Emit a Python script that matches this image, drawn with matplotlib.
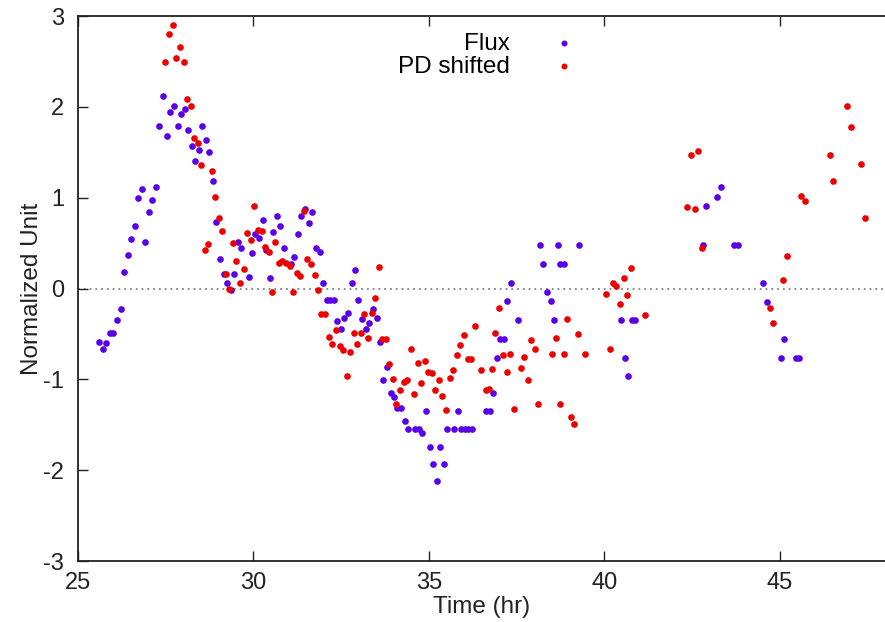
import matplotlib
matplotlib.use("Agg")
import matplotlib.pyplot as plt
import numpy as np

plt.rcParams["font.family"] = ["Liberation Sans", "DejaVu Sans"]
plt.rcParams["axes.unicode_minus"] = False

# Flux (blue) samples: time in hours, normalized value
flux_t = [25.61, 25.71, 25.81, 25.91, 26.01, 26.11, 26.22, 26.31, 26.42, 26.51,
          26.62, 26.72, 26.83, 26.92, 27.03, 27.12, 27.23, 27.32, 27.42, 27.53,
          27.63, 27.73, 27.84, 27.93, 28.04, 28.13, 28.24, 28.33, 28.44, 28.54,
          28.65, 28.74, 28.85, 28.95, 29.05, 29.15, 29.25, 29.36, 29.46, 29.55,
          29.66, 29.87, 29.96, 30.06, 30.16, 30.27, 30.36, 30.47, 30.56, 30.67,
          30.77, 30.87, 31.08, 31.17, 31.28, 31.37, 31.48, 31.58, 31.67, 31.78,
          31.89, 31.99, 32.09, 32.18, 32.29, 32.39, 32.49, 32.59, 32.69, 32.80,
          32.89, 32.99, 33.09, 33.20, 33.29, 33.40, 33.51, 33.60, 33.70, 33.80,
          33.91, 34.01, 34.10, 34.21, 34.31, 34.41, 34.61, 34.71, 34.81, 34.91,
          35.02, 35.11, 35.22, 35.31, 35.42, 35.52, 35.72, 35.82, 35.93, 36.04,
          36.13, 36.24, 36.63, 36.73, 36.84, 36.93, 37.03, 37.13, 37.24, 37.34,
          37.54, 38.16, 38.26, 38.36, 38.47, 38.56, 38.67, 38.75, 38.85, 39.28,
          40.49, 40.59, 40.69, 40.79, 40.89, 42.82, 42.91, 43.22, 43.32, 43.70,
          43.80, 44.53, 44.63, 45.04, 45.13, 45.45, 45.55]
flux_v = [-0.59, -0.67, -0.60, -0.49, -0.49, -0.35, -0.23, 0.18, 0.37, 0.55,
          0.69, 1.00, 1.10, 0.51, 0.84, 0.98, 1.12, 1.79, 2.12, 1.68,
          1.94, 2.01, 1.79, 1.92, 1.98, 1.75, 1.57, 1.41, 1.53, 1.79,
          1.64, 1.50, 1.19, 0.73, 0.33, 0.16, 0.06, -0.02, 0.16, 0.51,
          0.45, 0.13, 0.39, 0.60, 0.56, 0.76, 0.42, 0.12, 0.62, 0.80,
          0.69, 0.45, 0.27, 0.35, 0.60, 0.80, 0.88, 0.72, 0.84, 0.45,
          0.40, 0.06, -0.12, -0.12, -0.12, -0.36, -0.44, -0.32, -0.27, 0.06,
          0.20, -0.12, -0.33, -0.44, -0.38, -0.22, -0.32, -0.59, -1.01, -0.86,
          -1.15, -1.19, -1.31, -1.32, -1.46, -1.55, -1.55, -1.55, -1.59, -1.35,
          -1.74, -1.93, -2.12, -1.74, -1.93, -1.55, -1.55, -1.35, -1.55, -1.55,
          -1.55, -1.55, -1.35, -1.35, -1.15, -0.76, -0.55, -0.55, -0.14, 0.06,
          -0.35, 0.48, 0.27, -0.04, -0.14, -0.35, 0.48, 0.27, 0.27, 0.48,
          -0.35, -0.76, -0.96, -0.35, -0.35, 0.48, 0.91, 1.01, 1.12, 0.48,
          0.48, 0.06, -0.15, -0.76, -0.56, -0.76, -0.76]

# PD shifted (red) samples
pd_t = [27.49, 27.60, 27.71, 27.80, 27.91, 28.01, 28.11, 28.21, 28.31, 28.41,
        28.51, 28.61, 28.71, 28.82, 28.91, 29.02, 29.12, 29.22, 29.32, 29.42,
        29.51, 29.63, 29.73, 29.83, 29.93, 30.03, 30.13, 30.24, 30.33, 30.44,
        30.53, 30.63, 30.73, 30.82, 30.94, 31.05, 31.14, 31.25, 31.34, 31.44,
        31.54, 31.65, 31.75, 31.85, 31.94, 32.05, 32.15, 32.25, 32.35, 32.46,
        32.56, 32.66, 32.75, 32.86, 32.96, 33.07, 33.16, 33.27, 33.37, 33.47,
        33.57, 33.68, 33.77, 33.88, 33.97, 34.07, 34.18, 34.28, 34.38, 34.48,
        34.59, 34.68, 34.78, 34.89, 34.98, 35.09, 35.19, 35.29, 35.39, 35.49,
        35.59, 35.69, 35.80, 35.90, 36.00, 36.11, 36.20, 36.31, 36.49, 36.62,
        36.71, 36.81, 36.90, 37.01, 37.11, 37.22, 37.31, 37.42, 37.62, 37.72,
        37.82, 37.92, 38.03, 38.12, 38.52, 38.63, 38.73, 38.84, 38.94, 39.04,
        39.14, 39.25, 39.44, 40.06, 40.15, 40.24, 40.33, 40.46, 40.55, 40.66,
        40.76, 41.16, 42.37, 42.47, 42.58, 42.67, 42.78, 44.71, 44.81, 45.10,
        45.22, 45.60, 45.71, 46.42, 46.52, 46.93, 47.03, 47.33, 47.44]
pd_v = [2.49, 2.80, 2.90, 2.54, 2.66, 2.49, 2.09, 2.01, 1.66, 1.60,
        1.36, 0.43, 0.49, 1.30, 1.01, 0.78, 0.63, 0.16, 0.00, 0.50,
        0.30, 0.06, 0.22, 0.61, 0.53, 0.91, 0.65, 0.63, 0.46, 0.40,
        -0.04, 0.51, 0.28, 0.30, 0.28, 0.25, -0.04, 0.17, 0.14, 0.85,
        0.33, 0.27, 0.15, -0.01, -0.28, -0.28, -0.53, -0.61, -0.46, -0.63,
        -0.68, -0.96, -0.70, -0.49, -0.61, -0.49, -0.28, -0.54, -0.27, -0.10,
        0.24, -0.55, -0.55, -0.83, -1.00, -1.27, -1.12, -1.03, -1.01, -0.67,
        -1.16, -0.82, -1.04, -0.80, -0.92, -0.93, -1.12, -1.01, -1.18, -1.34,
        -0.98, -0.90, -0.73, -0.62, -0.51, -0.77, -0.77, -0.41, -0.90, -1.12,
        -1.10, -0.89, -0.49, -0.21, -0.73, -0.92, -0.72, -1.33, -0.87, -0.75,
        -1.01, -0.57, -0.66, -1.27, -0.72, -0.54, -1.27, -0.72, -0.34, -1.41,
        -1.49, -0.50, -0.72, -0.06, -0.66, 0.06, 0.03, -0.17, 0.12, -0.07,
        0.23, -0.29, 0.90, 1.47, 0.88, 1.51, 0.45, -0.21, -0.38, 0.10,
        0.36, 1.02, 0.97, 1.47, 1.19, 2.01, 1.78, 1.37, 0.78]

fig = plt.figure(figsize=(8.85, 6.22), dpi=100)
ax = fig.add_axes([0.088, 0.098, 0.912, 0.876])

ax.axhline(0, color="#808080", lw=1.3, ls=(0, (1, 2.2)), zorder=1)
ax.scatter(flux_t, flux_v, s=23, color="#5a00e8", lw=0, label="Flux", zorder=3)
ax.scatter(pd_t, pd_v, s=23, color="#ee0000", lw=0, label="PD shifted", zorder=3)

ax.set_xlim(25, 48)
ax.set_ylim(-3, 3)
ax.set_xticks(np.arange(25, 46, 5))
ax.set_yticks(np.arange(-3, 4, 1))
ax.tick_params(direction="in", length=7, width=1.0, labelsize=17, top=True,
               colors="#222222")
ax.tick_params(axis="x", pad=8)
ax.tick_params(axis="y", pad=10)
for side in ["left", "bottom", "top"]:
    ax.spines[side].set_linewidth(1.3)
    ax.spines[side].set_color("#222222")
ax.spines["right"].set_visible(False)

ax.set_xlabel("Time (hr)", fontsize=17.5, labelpad=1, color="#222222")
ax.set_ylabel("Normalized Unit", fontsize=17.5, labelpad=0, color="#222222")

ax.legend(loc="upper left", bbox_to_anchor=(0.37, 1.01), frameon=False,
          markerfirst=False, fontsize=17.5, handletextpad=1.7, labelspacing=0.05,
          handlelength=1.0, markerscale=0.9)

fig.savefig("out.png", dpi=100)
